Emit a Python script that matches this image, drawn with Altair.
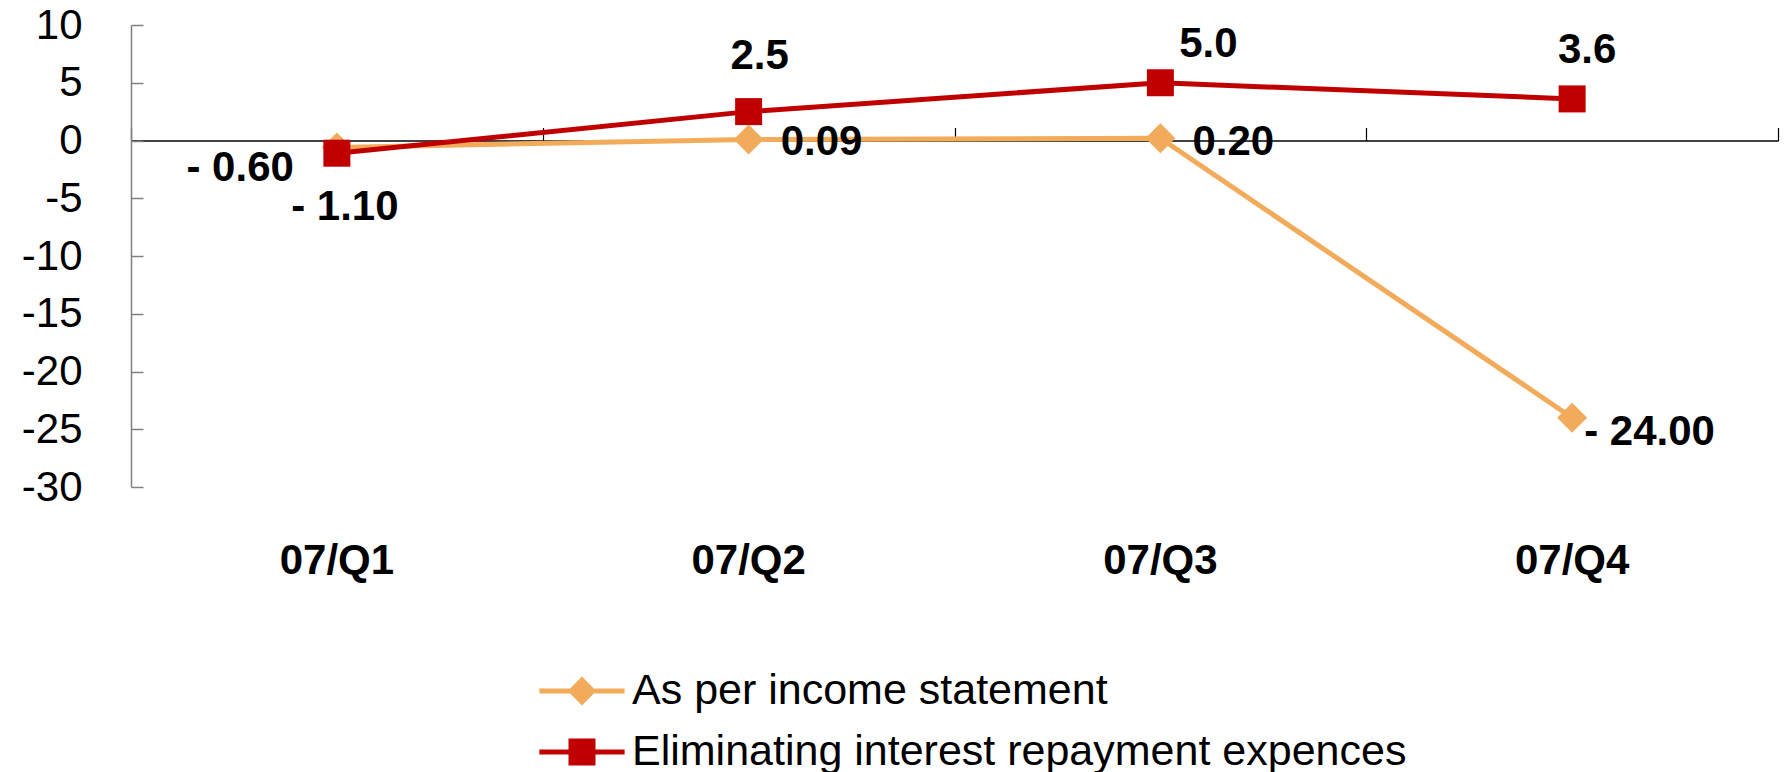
import altair as alt
import pandas as pd

quarters = ["07/Q1", "07/Q2", "07/Q3", "07/Q4"]
series_names = ["As per income statement", "Eliminating interest repayment expences"]
income_values = [-0.60, 0.09, 0.20, -24.00]
eliminating_values = [-1.10, 2.5, 5.0, 3.6]
income_labels = ["- 0.60", "0.09", "0.20", "- 24.00"]
eliminating_labels = ["- 1.10", "2.5", "5.0", "3.6"]
y_ticks = [10, 5, 0, -5, -10, -15, -20, -25, -30]

rows = []
for q, v, l in zip(quarters, income_values, income_labels):
    rows.append({"quarter": q, "series": series_names[0], "value": v, "label": l})
for q, v, l in zip(quarters, eliminating_values, eliminating_labels):
    rows.append({"quarter": q, "series": series_names[1], "value": v, "label": l})
df = pd.DataFrame(rows)

FONT = "Liberation Sans, Arial, sans-serif"
ORANGE = "#F2AB5B"
RED = "#C00000"
W, H = 1647, 462

xscale = alt.Scale(type="band", domain=quarters, paddingInner=0, paddingOuter=0)
yscale = alt.Scale(domain=[-30, 10], nice=False, zero=False)
cscale = alt.Scale(domain=series_names, range=[ORANGE, RED])


def X(axis=None):
    return alt.X("quarter:N", scale=xscale, sort=quarters, bandPosition=0.5, axis=axis, title=None)


def Y(axis=None):
    return alt.Y("value:Q", scale=yscale, axis=axis, title=None)


base = alt.Chart(df)
income = base.transform_filter(alt.datum.series == series_names[0])
elim = base.transform_filter(alt.datum.series == series_names[1])

line_income = income.mark_line(strokeWidth=5, color=ORANGE).encode(
    x=X(alt.Axis(orient="bottom", domain=False, ticks=False, tickSize=0, grid=False,
                 labelFont=FONT, labelFontSize=42, labelFontWeight="bold", labelColor="black",
                 labelAngle=0, labelPadding=73, labelBaseline="middle")),
    y=Y(alt.Axis(orient="left", values=y_ticks, domain=True, domainColor="#808080", domainWidth=1.5,
                 ticks=False, tickSize=0, grid=False, labelFont=FONT, labelFontSize=42,
                 labelColor="black", labelPadding=49, labelExpr="toString(datum.value)")),
)
line_elim = elim.mark_line(strokeWidth=5, color=RED).encode(x=X(), y=Y())

pts_income = income.mark_point(shape="diamond", filled=True, size=900, opacity=1,
                               color=ORANGE).encode(x=X(), y=Y())
pts_elim = elim.mark_point(shape="square", filled=True, size=729, opacity=1,
                           color=RED).encode(x=X(), y=Y())

# inner ticks and zero line, drawn as secondary axes
tick_layer = base.mark_point(opacity=0).encode(
    x=X(alt.Axis(orient="top", offset=-115.5, domain=True, domainColor="black", domainWidth=1.5,
                 ticks=True, tickSize=13, tickColor="black", tickWidth=1.2, tickBand="extent",
                 labels=False, grid=False)),
    y=Y(alt.Axis(orient="right", offset=-W, values=y_ticks, domain=False, ticks=True, tickSize=12,
                 tickColor="#808080", tickWidth=1.5, labels=False, grid=False)),
)

label_styles = [
    (series_names[0], "07/Q1", -43, 21, "right"),
    (series_names[0], "07/Q2", 32, 3, "left"),
    (series_names[0], "07/Q3", 32, 4, "left"),
    (series_names[0], "07/Q4", 12, 14, "left"),
    (series_names[1], "07/Q1", 8, 54, "center"),
    (series_names[1], "07/Q2", 11, -56, "center"),
    (series_names[1], "07/Q3", 48, -39, "center"),
    (series_names[1], "07/Q4", 15, -49, "center"),
]
label_layers = []
for s, q, dx, dy, al in label_styles:
    label_layers.append(
        base.transform_filter((alt.datum.series == s) & (alt.datum.quarter == q)).mark_text(
            font=FONT, fontSize=42, fontWeight="bold", color="black", dx=dx, dy=dy, align=al,
            baseline="middle"
        ).encode(x=X(), y=Y(), text="label:N")
    )

p_diamond = ("M-1.42,-0.085L-0.395,-0.085L0,-0.48L0.395,-0.085L1.42,-0.085L1.42,0.085"
             "L0.395,0.085L0,0.48L-0.395,0.085L-1.42,0.085Z")
p_square = ("M-1.42,-0.085L-0.45,-0.085L-0.45,-0.45L0.45,-0.45L0.45,-0.085L1.42,-0.085"
            "L1.42,0.085L0.45,0.085L0.45,0.45L-0.45,0.45L-0.45,0.085L-1.42,0.085Z")

leg = alt.Legend(
    title=None, orient="none", legendX=421, legendY=636, symbolSize=3600,
    symbolStrokeWidth=0, symbolOpacity=1, labelFont=FONT, labelFontSize=43, labelColor="black",
    labelOffset=20, rowPadding=9, padding=0, labelLimit=2000)

legend_layer = base.mark_point(filled=True, size=0).encode(
    x=X(), y=Y(),
    color=alt.Color("series:N", scale=cscale, legend=leg),
    shape=alt.Shape("series:N", scale=alt.Scale(domain=series_names, range=[p_diamond, p_square]),
                    legend=leg),
)

chart = alt.layer(
    line_income, line_elim, pts_income, pts_elim, tick_layer, *label_layers, legend_layer
).resolve_axis(x="independent", y="independent").properties(
    width=W, height=H,
    padding={"left": 131, "top": 25, "right": 6, "bottom": 285},
    autosize=alt.AutoSizeParams(type="none"),
    background="white",
).configure_view(stroke=None)

chart.save("out.html", embed_options={"renderer": "svg", "actions": False})
